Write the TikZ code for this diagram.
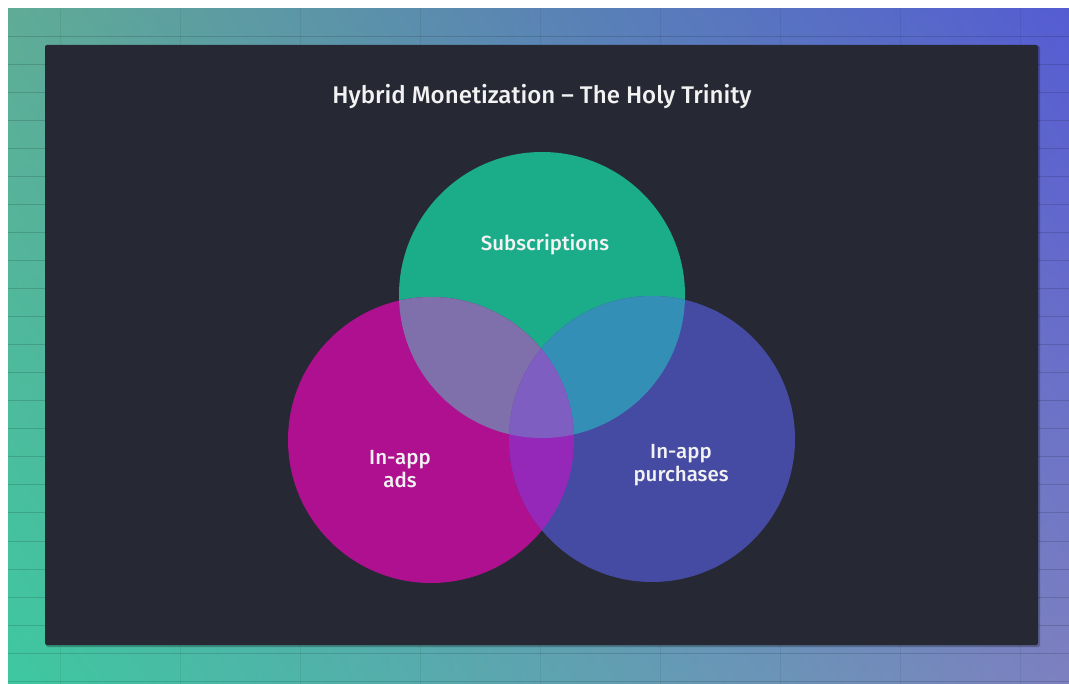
\documentclass[tikz,border=0pt]{standalone}
\usepackage{fontspec}
\setmainfont{Fira Sans}[BoldFont=* Medium]
\usetikzlibrary{shadings}
\definecolor{panel}{RGB}{38,40,52}
\definecolor{cgreen}{RGB}{27,172,137}
\definecolor{cmag}{RGB}{174,16,143}
\definecolor{cblue}{RGB}{69,74,162}
\definecolor{cgm}{RGB}{127,111,170}
\definecolor{cgb}{RGB}{52,143,182}
\definecolor{cmb}{RGB}{150,40,185}
\definecolor{cgmb}{RGB}{126,94,192}
\definecolor{bgtl}{RGB}{95,172,150}
\definecolor{bgbl}{RGB}{62,200,160}
\definecolor{bgtr}{RGB}{85,92,210}
\definecolor{bgbr}{RGB}{125,128,192}
\definecolor{txt}{RGB}{242,242,242}
\tikzset{
  lbl/.style={text=txt, font=\fontsize{20.5}{23.5}\selectfont\bfseries, align=center, inner sep=0pt},
  gridline/.style={black, opacity=0.14, line width=1pt}
}
\begin{document}
\begin{tikzpicture}[x=1pt,y=-1pt]
\useasboundingbox (0,0) rectangle (1069,684);
\fill[white] (0,0) rectangle (1069,684);
\shade[upper left=bgtl, upper right=bgtr, lower left=bgbl, lower right=bgbr] (8,9) rectangle (1069,684);
\foreach \y in {37,65,93,121,149,177,205,233,261,289,317,345,373,401,429,457,485,513,541,569,597,625,653,681}
  \draw[gridline] (8,\y) -- (1069,\y);
\foreach \x in {60,180,300,420,540,660,780,900,1020}
  \draw[gridline, opacity=0.06] (\x,9) -- (\x,684);
% panel shadow and panel
\fill[black, opacity=0.25, rounded corners=2pt] (46,46) rectangle (1040,647);
\fill[panel, rounded corners=2pt] (45,45) rectangle (1038,645);
\node[text=txt, font=\fontsize{24.1}{27}\selectfont\bfseries, inner sep=0pt] (title) at (542,97) {Hybrid Monetization – The Holy Trinity};
% circles
\coordinate (cS) at (542,295);
\coordinate (cA) at (431,440);
\coordinate (cP) at (652,439);
\def\R{143}
\fill[cgreen] (cS) circle (\R);
\fill[cmag] (cA) circle (\R);
\fill[cblue] (cP) circle (\R);
\begin{scope}
  \clip (cS) circle (\R);
  \fill[cgm] (cA) circle (\R);
\end{scope}
\begin{scope}
  \clip (cS) circle (\R);
  \fill[cgb] (cP) circle (\R);
\end{scope}
\begin{scope}
  \clip (cA) circle (\R);
  \fill[cmb] (cP) circle (\R);
\end{scope}
\begin{scope}
  \clip (cS) circle (\R);
  \clip (cA) circle (\R);
  \fill[cgmb] (cP) circle (\R);
\end{scope}
\node[lbl] (subs) at (545,245) {Subscriptions};
\node[lbl] (ads) at (400,469) {In-app\\ads};
\node[lbl] (purch) at (681,465) {In-app\\purchases};
\end{tikzpicture}
\end{document}
